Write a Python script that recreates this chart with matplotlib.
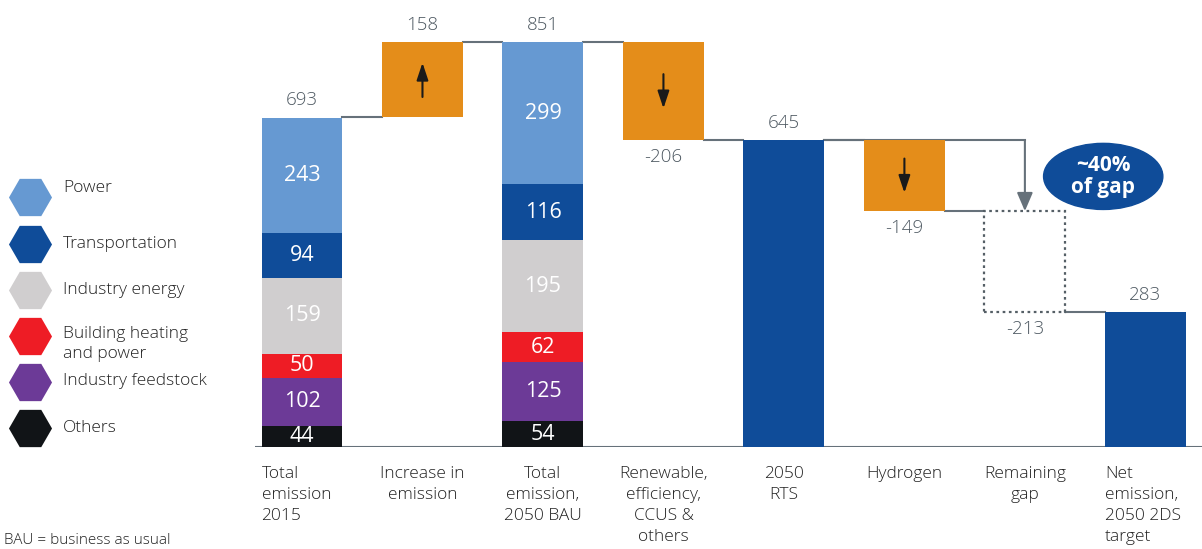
import matplotlib.pyplot as plt
from matplotlib.patches import Rectangle, Ellipse

plt.rcParams['font.family'] = ['Open Sans', 'DejaVu Sans']
plt.rcParams['font.weight'] = 'light'

# -----------------------------
# Data
# -----------------------------
steps = ["Total\nemission\n2015", "Increase in\nemission", "Total\nemission,\n2050 BAU",
         "Renewable,\nefficiency,\nCCUS &\nothers", "2050\nRTS", "Hydrogen",
         "Remaining\ngap", "Net\nemission,\n2050 2DS\ntarget"]
step_values = [693, 158, 851, -206, 645, -149, -213, 283]
step_kind = ["stack", "delta", "stack", "delta", "total", "delta", "gap", "total"]

sectors = ["Others", "Industry feedstock", "Building heating\nand power",
           "Industry energy", "Transportation", "Power"]
sector_colors = ["#111417", "#6c3a97", "#ee1c25", "#d0cecf", "#0f4c99", "#6699d2"]
emis_2015 = [44, 102, 50, 159, 94, 243]
emis_2050_bau = [54, 125, 62, 195, 116, 299]

ORANGE = "#e48d1a"
BLUE = "#0f4c99"
GREY = "#66717a"
TXT = "#4d5861"
W = 0.672
ARROW = "-|>,head_length=0.75,head_width=0.25"

fig = plt.figure(figsize=(12.02, 5.49), dpi=100)
ax = fig.add_axes([255 / 1202, 102 / 549, 947 / 1202, 428 / 549])
ax.set_xlim(-0.39, 7.47)
ax.set_ylim(0, 900)
ax.axis("off")

# -----------------------------
# Bars
# -----------------------------
stacks = {0: emis_2015, 2: emis_2050_bau}
level = 0
tops = []
for i, (v, kind) in enumerate(zip(step_values, step_kind)):
    if kind == "stack":
        bottom = 0
        for val, col in zip(stacks[i], sector_colors):
            ax.bar(i, val, W, bottom=bottom, color=col, zorder=2)
            ax.text(i, bottom + val / 2, str(val), ha="center", va="center",
                    color="white", fontsize=15.5, fontweight="normal", zorder=3)
            bottom += val
        level = v
        ax.text(i, v + 18, str(v), ha="center", va="bottom", color=TXT, fontsize=13.5)
        tops.append((level, level))
    elif kind == "total":
        ax.bar(i, v, W, color=BLUE, zorder=2)
        level = v
        ax.text(i, v + 18, str(v), ha="center", va="bottom", color=TXT, fontsize=13.5)
        tops.append((level, level))
    else:
        lo, hi = min(level, level + v), max(level, level + v)
        if kind == "delta":
            ax.bar(i, hi - lo, W, bottom=lo, color=ORANGE, zorder=2)
            mid = (lo + hi) / 2
            sgn = 1 if v > 0 else -1
            ax.annotate("", xy=(i, mid + sgn * 36), xytext=(i, mid - sgn * 36),
                        arrowprops=dict(arrowstyle=ARROW, color="#1a1a1a", lw=1.5,
                                        mutation_scale=14, shrinkA=0, shrinkB=0), zorder=4)
        else:
            ax.add_patch(Rectangle((i - W / 2, lo), W, hi - lo, fill=False,
                                   edgecolor="#555f66", lw=1.6, ls=(0, (1.2, 1.6)), zorder=2))
        if v > 0:
            ax.text(i, hi + 18, str(v), ha="center", va="bottom", color=TXT, fontsize=13.5)
        else:
            ax.text(i, lo - 16, str(v), ha="center", va="top", color=TXT, fontsize=13.5)
        tops.append((level, level + v))
        level = level + v

# connector lines
for i in range(len(step_values) - 1):
    y = tops[i][1]
    ax.plot([i + W / 2, i + 1 - W / 2], [y, y], color=GREY, lw=1.5, zorder=1)

# line from 2050 RTS over hydrogen to the remaining gap
ax.plot([4 + W / 2, 6], [tops[4][1], tops[4][1]], color=GREY, lw=1.5, zorder=1)
ax.annotate("", xy=(6, tops[6][0]), xytext=(6, tops[4][1]),
            arrowprops=dict(arrowstyle="-|>,head_length=0.7,head_width=0.3", color=GREY,
                            lw=1.5, mutation_scale=16, shrinkA=0, shrinkB=0), zorder=3)

ax.add_patch(Ellipse((6.65, 569), 0.99, 139, color=BLUE, zorder=3))
ax.text(6.65, 569, "~40%\nof gap", ha="center", va="center", color="white",
        fontsize=15, fontweight="bold", linespacing=1.1, zorder=4)

# baseline
ax.axhline(0, color=GREY, lw=1.5, zorder=1)

# category labels
ha_list = ["left", "center", "center", "center", "center", "center", "center", "left"]
for i, (lab, ha) in enumerate(zip(steps, ha_list)):
    x = i - W / 2 if ha == "left" else i
    ax.text(x, -40, lab, ha=ha, va="top", color="#222222", fontsize=12.5,
            linespacing=1.42, clip_on=False)

# -----------------------------
# Legend
# -----------------------------
leg = fig.add_axes([0, 0, 1, 1], zorder=-1)
leg.set_xlim(0, 1202)
leg.set_ylim(549, 0)
leg.axis("off")
hex_y = [428, 382, 336, 290, 244, 197]
txt_y = [428, 381, 344, 290, 244, 188]
for lab, col, hy, ty in zip(sectors, sector_colors, hex_y, txt_y):
    leg.plot(30, hy, marker="H", ms=31, color=col, mec="none")
    leg.text(63, ty, lab, ha="left", va="center", color="#222222", fontsize=12.5,
             linespacing=1.3)

leg.text(4, 540, "BAU = business as usual", ha="left", va="center",
         color="#222222", fontsize=11)

fig.savefig("out.png", dpi=100)
